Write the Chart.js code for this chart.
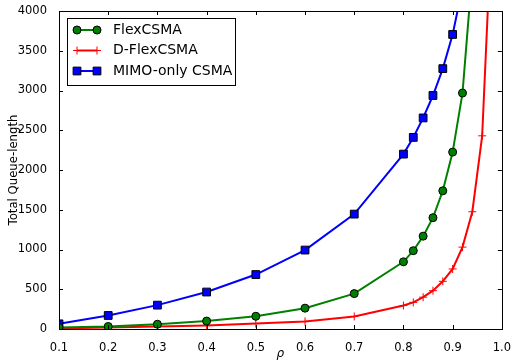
<!DOCTYPE html>
<html>
<head>
<meta charset="utf-8">
<script src="https://cdn.jsdelivr.net/npm/chart.js@4/dist/chart.umd.min.js"></script>
<style>
  body { margin: 0; background: #fff; }
  #wrap { width: 515px; height: 362px; }
</style>
</head>
<body>
<div id="wrap"><canvas id="chart"></canvas></div>
<script>
// Queue length vs load (rho)
const flexRho = [0.1, 0.2, 0.3, 0.4, 0.5, 0.6, 0.7, 0.8, 0.82, 0.84, 0.86, 0.88, 0.9, 0.92, 0.94];
const flexQ = [20, 32, 60, 100, 160, 262, 445, 845, 985, 1168, 1400, 1738, 2225, 2968, 4500];

const dflexRho = [0.1, 0.2, 0.3, 0.4, 0.5, 0.6, 0.7, 0.8, 0.82, 0.84, 0.86, 0.88, 0.9, 0.92, 0.94, 0.96, 0.98];
const dflexQ = [8, 18, 30, 45, 68, 95, 158, 295, 335, 400, 482, 600, 755, 1030, 1475, 2430, 5200];

const mimoRho = [0.1, 0.2, 0.3, 0.4, 0.5, 0.6, 0.7, 0.8, 0.82, 0.84, 0.86, 0.88, 0.9, 0.92];
const mimoQ = [65, 170, 300, 465, 685, 993, 1445, 2200, 2410, 2655, 2937, 3275, 3705, 4300];

const seriesNames = ['FlexCSMA', 'D-FlexCSMA', 'MIMO-only CSMA'];
const xTicks = [0.1, 0.2, 0.3, 0.4, 0.5, 0.6, 0.7, 0.8, 0.9, 1.0];
const yTicks = [0, 500, 1000, 1500, 2000, 2500, 3000, 3500, 4000];

const FONT = 'DejaVu Sans';

function pts(xs, ys) {
    return xs.map((x, i) => ({ x: x, y: ys[i] }));
}

// matplotlib-ish frame with inward ticks on all four sides
const framePlugin = {
    id: 'frame',
    afterDatasetsDraw(chart) {
        const { ctx, chartArea: a, scales } = chart;
        ctx.save();
        ctx.strokeStyle = '#000';
        ctx.lineWidth = 1;
        ctx.beginPath();
        xTicks.forEach(v => {
            const px = Math.round(scales.x.getPixelForValue(v)) + 0.5;
            ctx.moveTo(px, a.bottom); ctx.lineTo(px, a.bottom - 4);
            ctx.moveTo(px, a.top); ctx.lineTo(px, a.top + 4);
        });
        yTicks.forEach(v => {
            const py = Math.round(scales.y.getPixelForValue(v)) + 0.5;
            ctx.moveTo(a.left, py); ctx.lineTo(a.left + 4, py);
            ctx.moveTo(a.right, py); ctx.lineTo(a.right - 4, py);
        });
        ctx.stroke();
        ctx.strokeRect(Math.round(a.left) + 0.5, Math.round(a.top) + 0.5,
            Math.round(a.right - a.left), Math.round(a.bottom - a.top));
        ctx.restore();
    }
};

// legend box with two markers per entry, like matplotlib
const legendPlugin = {
    id: 'mplLegend',
    afterDraw(chart) {
        const { ctx, chartArea: a } = chart;
        const bx = a.left + 8, by = a.top + 7, bw = 168, bh = 67;
        ctx.save();
        ctx.fillStyle = '#fff';
        ctx.fillRect(bx, by, bw, bh);
        ctx.strokeStyle = '#000';
        ctx.lineWidth = 1;
        ctx.strokeRect(Math.round(bx) + 0.5, Math.round(by) + 0.5, bw, bh);
        chart.data.datasets.forEach((ds, i) => {
            const y = by + 12 + i * 20.5;
            const x1 = bx + 10, x2 = bx + 30;
            ctx.strokeStyle = ds.borderColor;
            ctx.lineWidth = 2;
            ctx.beginPath();
            ctx.moveTo(x1, y); ctx.lineTo(x2, y);
            ctx.stroke();
            const opts = {
                pointStyle: ds.pointStyle,
                radius: ds.pointRadius,
                borderWidth: ds.pointBorderWidth,
                rotation: 0
            };
            ctx.fillStyle = ds.pointBackgroundColor;
            ctx.strokeStyle = ds.pointBorderColor;
            ctx.lineWidth = ds.pointBorderWidth;
            Chart.helpers.drawPoint(ctx, opts, x1, y);
            Chart.helpers.drawPoint(ctx, opts, x2, y);
            ctx.fillStyle = '#000';
            ctx.font = '14px "' + FONT + '"';
            ctx.textBaseline = 'middle';
            ctx.fillText(ds.label, bx + 46, y);
        });
        ctx.restore();
    }
};

new Chart(document.getElementById('chart'), {
    type: 'line',
    data: {
        datasets: [{
            label: seriesNames[0],
            data: pts(flexRho, flexQ),
            borderColor: '#008000',
            borderWidth: 2,
            pointStyle: 'circle',
            pointRadius: 4,
            pointBackgroundColor: '#008000',
            pointBorderColor: '#000',
            pointBorderWidth: 1,
            clip: 0
        }, {
            label: seriesNames[1],
            data: pts(dflexRho, dflexQ),
            borderColor: '#ff0000',
            borderWidth: 2,
            pointStyle: 'cross',
            pointRadius: 4,
            pointBackgroundColor: '#ff0000',
            pointBorderColor: '#ff0000',
            pointBorderWidth: 1,
            clip: 0
        }, {
            label: seriesNames[2],
            data: pts(mimoRho, mimoQ),
            borderColor: '#0000ff',
            borderWidth: 2,
            pointStyle: 'rect',
            pointRadius: 5.5,
            pointBackgroundColor: '#0000ff',
            pointBorderColor: '#000',
            pointBorderWidth: 1,
            clip: 0
        }]
    },
    options: {
        responsive: true,
        maintainAspectRatio: false,
        animation: false,
        layout: { padding: { top: 11, right: 9, left: 0, bottom: 0 } },
        plugins: {
            legend: { display: false },
            tooltip: { enabled: false }
        },
        elements: { line: { tension: 0 } },
        scales: {
            x: {
                type: 'linear',
                min: 0.1,
                max: 1.0,
                afterFit: s => { s.height = 33; },
                afterBuildTicks: s => { s.ticks = xTicks.map(v => ({ value: v })); },
                grid: { display: false },
                border: { display: false },
                ticks: {
                    color: '#000',
                    font: { family: FONT, size: 11.5 },
                    padding: 4,
                    maxRotation: 0,
                    callback: v => v.toFixed(1)
                },
                title: {
                    display: true,
                    text: 'ρ',
                    color: '#000',
                    font: { family: FONT, size: 12, style: 'italic' },
                    padding: { top: 0, bottom: 1 }
                }
            },
            y: {
                min: 0,
                max: 4000,
                afterFit: s => { s.width = 59; },
                afterBuildTicks: s => { s.ticks = yTicks.map(v => ({ value: v })); },
                grid: { display: false },
                border: { display: false },
                ticks: {
                    color: '#000',
                    font: { family: FONT, size: 11.5 },
                    padding: 4,
                    callback: v => String(v)
                },
                title: {
                    display: true,
                    text: 'Total Queue-length',
                    color: '#000',
                    font: { family: FONT, size: 11.7 },
                    padding: { top: 7, bottom: 0 }
                }
            }
        }
    },
    plugins: [framePlugin, legendPlugin]
});
</script>
</body>
</html>
